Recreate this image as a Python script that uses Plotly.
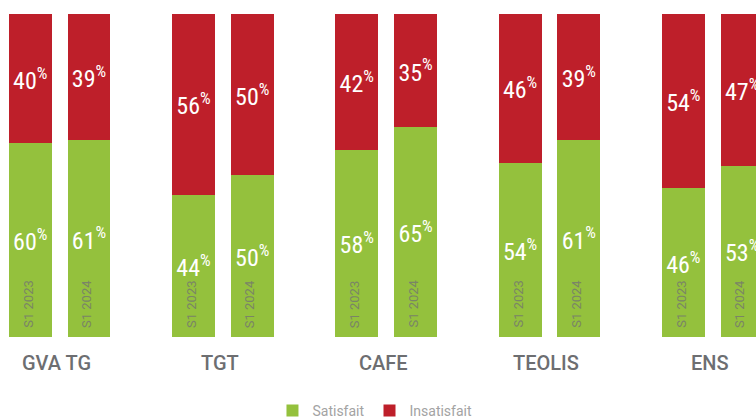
import plotly.graph_objects as go

groups = ["GVA TG", "TGT", "CAFE", "TEOLIS", "ENS"]
periods = ["S1 2023", "S1 2024"]
satisfait = [[60, 61], [44, 50], [58, 65], [54, 61], [46, 53]]
insatisfait = [[40, 39], [56, 50], [42, 35], [46, 39], [54, 47]]

GREEN = "#94C13D"
RED = "#BE1F2A"
COND = "Liberation Sans Narrow, Roboto Condensed, Roboto, sans-serif"

offset = 0.18   # half distance between the two bars of a group (group units)
bw = 0.263      # bar width (group units)

xs, sat_vals, ins_vals, per_lbl = [], [], [], []
for gi, g in enumerate(groups):
    for pi, p in enumerate(periods):
        xs.append(gi + (-offset if pi == 0 else offset))
        sat_vals.append(satisfait[gi][pi])
        ins_vals.append(insatisfait[gi][pi])
        per_lbl.append(p)

fig = go.Figure()
fig.add_trace(go.Bar(
    x=xs, y=sat_vals, width=bw, name="Satisfait",
    marker=dict(color=GREEN, line=dict(width=0)),
    text=[f"{v}<sup>%</sup>" for v in sat_vals],
    textposition="inside", insidetextanchor="middle", textangle=0,
    textfont=dict(color="white", size=24, family=COND),
    hoverinfo="skip",
))
fig.add_trace(go.Bar(
    x=xs, y=ins_vals, width=bw, name="Insatisfait",
    marker=dict(color=RED, line=dict(width=0)),
    text=[f"{v}<sup>%</sup>" for v in ins_vals],
    textposition="inside", insidetextanchor="middle", textangle=0,
    textfont=dict(color="white", size=24, family=COND),
    hoverinfo="skip",
))

annotations = []
for x, p in zip(xs, per_lbl):
    annotations.append(dict(
        x=x, y=0, xref="x", yref="y", text=p, showarrow=False,
        textangle=-90, yanchor="bottom", xanchor="center", yshift=7, xshift=-2,
        font=dict(size=13, color="#7a8566", family="Roboto"),
    ))
for gi, g in enumerate(groups):
    annotations.append(dict(
        x=gi, y=-8.0, xref="x", yref="y", text=g, showarrow=False,
        xanchor="center", yanchor="middle", xshift=-3,
        font=dict(size=20, color="#6d6e71", family="Roboto", weight=500),
    ))

fig.update_layout(
    width=756, height=418,
    margin=dict(l=0, r=0, t=0, b=0, autoexpand=False),
    paper_bgcolor="white", plot_bgcolor="white",
    barmode="stack", uniformtext=dict(mode=False),
    xaxis=dict(range=[-0.365, 4.265], visible=False, fixedrange=True),
    yaxis=dict(range=[-25.08, 104.33], visible=False, fixedrange=True),
    showlegend=True,
    legend=dict(orientation="h", x=0.496, xanchor="center", y=0.017, yanchor="middle",
                traceorder="normal", font=dict(size=14, color="#a3a3a3", family="Roboto"),
                itemwidth=30, bgcolor="rgba(0,0,0,0)"),
    annotations=annotations,
)

fig.write_html("out.html", config={"displayModeBar": False},
               post_script="document.body.style.margin='0px';")
